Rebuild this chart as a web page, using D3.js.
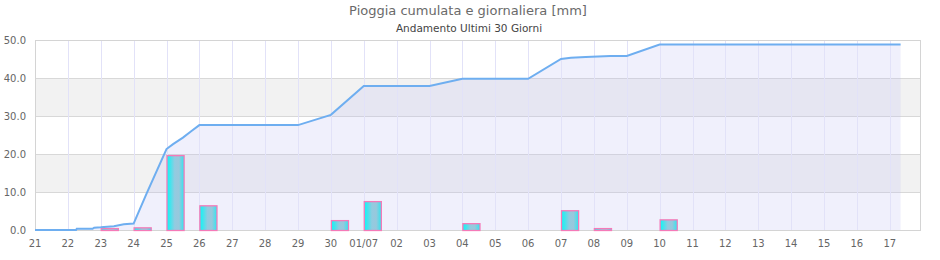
<!DOCTYPE html>
<html lang="it">
<head>
<meta charset="UTF-8">
<title>Pioggia cumulata e giornaliera</title>
<style>
    body { margin: 0; padding: 0; background: #fff; overflow: hidden; }
    svg { display: block; font-family: "DejaVu Sans", sans-serif; }
</style>
</head>
<body>
<svg id="chart" width="940" height="260"></svg>
<script src="https://cdn.jsdelivr.net/npm/d3@7"></script>
<script>
    // day labels, one per day from 21/06 to 17/07
    const dayLabels = ["21", "22", "23", "24", "25", "26", "27", "28", "29", "30", "01/07",
        "02", "03", "04", "05", "06", "07", "08", "09", "10", "11", "12", "13", "14", "15", "16", "17"];

    // daily rain (day index, mm)
    const barDays = [2, 3, 4, 5, 9, 10, 13, 16, 17, 19];
    const barRain = [0.5, 0.7, 19.7, 6.5, 2.6, 7.6, 1.8, 5.2, 0.5, 2.8];

    // cumulated rain (day index with fraction, mm)
    const cumDays = [0, 1.25, 1.27, 1.75, 1.8, 2.0, 2.4, 2.7, 3.0, 3.4, 4.0, 4.2, 4.5, 4.75, 5.0, 8.0, 9.0, 10.0,
        12.0, 13.0, 15.0, 16.0, 16.3, 16.75, 17.5, 18.0, 19.0, 26.33];
    const cumRain = [0, 0, 0.3, 0.3, 0.6, 0.7, 1.0, 1.5, 1.7, 9.7, 21.3, 22.6, 24.3, 26.0, 27.6, 27.6, 30.3, 37.9,
        37.9, 39.8, 39.8, 45.0, 45.3, 45.5, 45.8, 45.8, 48.8, 48.8];

    const yTicks = [0, 10, 20, 30, 40, 50];

    const W = 940, H = 260;
    const m = {left: 35, right: 20, top: 40, bottom: 30};
    const svg = d3.select("#chart");

    const x = d3.scaleLinear().domain([0, 26.92]).range([m.left, W - m.right]);
    const y = d3.scaleLinear().domain([0, 50]).range([H - m.bottom, m.top]);

    // gradient for the bars
    const grad = svg.append("defs").append("linearGradient")
        .attr("id", "barGrad").attr("x1", "0%").attr("x2", "100%").attr("y1", "0%").attr("y2", "0%");
    [[0, "#10f6f6"], [0.18, "#3ee6ee"], [0.45, "#92cbe0"], [0.7, "#98c8dc"], [0.88, "#5ad9e8"], [1, "#20f0f2"]]
        .forEach(s => grad.append("stop").attr("offset", s[0]).attr("stop-color", s[1]));

    // title
    svg.append("text").attr("x", 468).attr("y", 15).attr("text-anchor", "middle")
        .attr("font-size", 13).attr("fill", "#6a6a6a").text("Pioggia cumulata e giornaliera [mm]");
    svg.append("text").attr("x", 469).attr("y", 32).attr("text-anchor", "middle")
        .attr("font-size", 10.5).attr("fill", "#444").text("Andamento Ultimi 30 Giorni");

    const g = svg.append("g");

    // alternating bands
    for (let i = 0; i < yTicks.length - 1; i++) {
        if (i % 2 === 1) {
            g.append("rect")
                .attr("x", x(0)).attr("width", x.range()[1] - x(0))
                .attr("y", y(yTicks[i + 1])).attr("height", y(yTicks[i]) - y(yTicks[i + 1]))
                .attr("fill", "#f2f2f2");
        }
    }

    // horizontal grid
    g.selectAll(".hgrid").data(yTicks).enter().append("line")
        .attr("x1", x(0)).attr("x2", x.range()[1])
        .attr("y1", d => y(d) + 0.5).attr("y2", d => y(d) + 0.5)
        .attr("stroke", "#d8d8d8");

    const pts = cumDays.map((d, i) => [d, cumRain[i]]);

    // area under the cumulated line
    g.append("path").datum(pts)
        .attr("d", d3.area().x(d => x(d[0])).y0(y(0)).y1(d => y(d[1])))
        .attr("fill", "rgb(190,190,242)").attr("fill-opacity", 0.23);

    // vertical grid
    g.selectAll(".vgrid").data(dayLabels).enter().append("line")
        .attr("x1", (d, i) => Math.round(x(i)) + 0.5).attr("x2", (d, i) => Math.round(x(i)) + 0.5)
        .attr("y1", y(50)).attr("y2", y(0))
        .attr("stroke", "#e2e2f8");

    // frame
    g.append("rect")
        .attr("x", x(0) + 0.5).attr("y", y(50) + 0.5)
        .attr("width", x.range()[1] - x(0)).attr("height", y(0) - y(50))
        .attr("fill", "none").attr("stroke", "#d4d4d4");

    // daily bars
    const bw = x(0.52) - x(0);
    g.selectAll(".bar").data(barDays).enter().append("rect")
        .attr("x", d => x(d) + 0.5)
        .attr("width", bw)
        .attr("y", (d, i) => y(barRain[i]) + 0.5)
        .attr("height", (d, i) => y(0) - y(barRain[i]))
        .attr("fill", "url(#barGrad)")
        .attr("stroke", "#f57ab8").attr("stroke-width", 1.3);

    // cumulated line
    g.append("path").datum(pts)
        .attr("d", d3.line().x(d => x(d[0])).y(d => y(d[1])))
        .attr("fill", "none").attr("stroke", "#6eaef0").attr("stroke-width", 2);

    // y axis labels
    svg.selectAll(".ylab").data(yTicks).enter().append("text")
        .attr("x", 26).attr("y", d => y(d) + 3.5)
        .attr("text-anchor", "end").attr("font-size", 10).attr("fill", "#666")
        .text(d => d.toFixed(1));

    // x axis labels
    svg.selectAll(".xlab").data(dayLabels).enter().append("text")
        .attr("x", (d, i) => x(i)).attr("y", 247)
        .attr("text-anchor", "middle").attr("font-size", 10).attr("fill", "#666")
        .text(d => d);
</script>
</body>
</html>
